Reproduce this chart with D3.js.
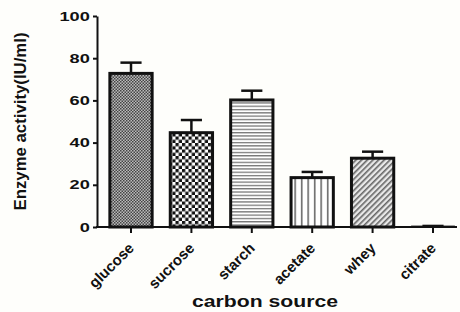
<!DOCTYPE html>
<html>
<head>
<meta charset="utf-8">
<script src="https://cdn.jsdelivr.net/npm/d3@7"></script>
<style>
  body { margin: 0; background: #fefefb; }
  svg { display: block; font-family: "Liberation Sans", Arial, sans-serif; }
  .tick text { font-weight: bold; fill: #111; }
</style>
</head>
<body>
<svg id="chart" width="460" height="312"></svg>
<script>
// data
var sources = ['glucose', 'sucrose', 'starch', 'acetate', 'whey', 'citrate'];
var activity = [72.8, 44.7, 60.2, 23.4, 32.6, 0.3];
var errors = [5.1, 6.0, 4.4, 2.7, 3.1, 0.2];
var patterns = ['fine', 'checker', 'hlines', 'vlines', 'diag', 'none'];
var yTicks = [0, 20, 40, 60, 80, 100];

var svg = d3.select('#chart');
var x0 = 97, y0 = 227, yTop = 16;

var x = d3.scaleBand().domain(sources).range([x0, 467])
  .paddingInner(0.3).paddingOuter(0.213);
var y = d3.scaleLinear().domain([0, 100]).range([y0, yTop]);

// fill patterns
var defs = svg.append('defs');
var p;
p = defs.append('pattern').attr('id', 'fine').attr('patternUnits', 'userSpaceOnUse')
  .attr('width', 3).attr('height', 3);
p.append('rect').attr('width', 3).attr('height', 3).attr('fill', '#bbb');
p.append('rect').attr('width', 1.5).attr('height', 1.5).attr('fill', '#444');
p.append('rect').attr('x', 1.5).attr('y', 1.5).attr('width', 1.5).attr('height', 1.5).attr('fill', '#444');

p = defs.append('pattern').attr('id', 'checker').attr('patternUnits', 'userSpaceOnUse')
  .attr('width', 6.5).attr('height', 6.5);
p.append('rect').attr('width', 6.5).attr('height', 6.5).attr('fill', '#fff');
p.append('rect').attr('width', 3.25).attr('height', 3.25).attr('fill', '#111');
p.append('rect').attr('x', 3.25).attr('y', 3.25).attr('width', 3.25).attr('height', 3.25).attr('fill', '#111');

p = defs.append('pattern').attr('id', 'hlines').attr('patternUnits', 'userSpaceOnUse')
  .attr('width', 4).attr('height', 3.3);
p.append('rect').attr('width', 4).attr('height', 3.3).attr('fill', '#fff');
p.append('rect').attr('width', 4).attr('height', 1.3).attr('fill', '#777');

p = defs.append('pattern').attr('id', 'vlines').attr('patternUnits', 'userSpaceOnUse')
  .attr('width', 6.5).attr('height', 4);
p.append('rect').attr('width', 6.5).attr('height', 4).attr('fill', '#fff');
p.append('rect').attr('x', 2).attr('width', 1.4).attr('height', 4).attr('fill', '#555');

p = defs.append('pattern').attr('id', 'diag').attr('patternUnits', 'userSpaceOnUse')
  .attr('width', 4).attr('height', 4).attr('patternTransform', 'rotate(45)');
p.append('rect').attr('width', 4).attr('height', 4).attr('fill', '#e8e8e8');
p.append('rect').attr('width', 1.6).attr('height', 4).attr('fill', '#666');

// bars
svg.selectAll('rect.bar').data(sources).enter().append('rect')
  .attr('class', 'bar')
  .attr('x', function(d) { return x(d); })
  .attr('width', x.bandwidth())
  .attr('y', function(d, i) { return y(activity[i]); })
  .attr('height', function(d, i) { return y0 - y(activity[i]); })
  .attr('fill', function(d, i) { return patterns[i] == 'none' ? '#fff' : 'url(#' + patterns[i] + ')'; })
  .attr('stroke', '#111')
  .attr('stroke-width', function(d, i) { return activity[i] < 1 ? 1.5 : 3; });

// error bars (upper only)
var eb = svg.selectAll('g.err').data(sources).enter().append('g').attr('class', 'err');
eb.append('line')
  .attr('x1', function(d) { return x(d) + x.bandwidth() / 2; })
  .attr('x2', function(d) { return x(d) + x.bandwidth() / 2; })
  .attr('y1', function(d, i) { return y(activity[i]); })
  .attr('y2', function(d, i) { return y(activity[i] + errors[i]); })
  .attr('stroke', '#111').attr('stroke-width', 2.5);
eb.append('line')
  .attr('x1', function(d) { return x(d) + x.bandwidth() / 4; })
  .attr('x2', function(d) { return x(d) + x.bandwidth() * 3 / 4; })
  .attr('y1', function(d, i) { return y(activity[i] + errors[i]); })
  .attr('y2', function(d, i) { return y(activity[i] + errors[i]); })
  .attr('stroke', '#111').attr('stroke-width', 2.5);

// y axis
var ya = svg.append('g').attr('transform', 'translate(' + x0 + ',0)')
  .call(d3.axisLeft(y).tickValues(yTicks).tickSize(4).tickSizeOuter(0));
ya.select('.domain').attr('stroke', '#111').attr('stroke-width', 2);
ya.selectAll('.tick line').attr('stroke', '#111').attr('stroke-width', 2);
// the source picture is stretched sideways, so widen the digits
ya.selectAll('.tick text').attr('font-size', 13).attr('x', -3)
  .attr('transform', 'translate(-3,0) scale(1.4,1)');

// x axis
var xa = svg.append('g').attr('transform', 'translate(0,' + y0 + ')')
  .call(d3.axisBottom(x).tickSize(6).tickSizeOuter(0));
xa.select('.domain').remove();
xa.selectAll('.tick line').attr('stroke', '#111').attr('stroke-width', 2);
xa.selectAll('.tick text')
  .attr('font-size', 15)
  .attr('text-anchor', 'end')
  .attr('x', 0).attr('y', 0).attr('dy', 0)
  .attr('transform', 'translate(4,22) rotate(-45)');
svg.append('line').attr('x1', x0 - 1).attr('x2', 457).attr('y1', y0).attr('y2', y0)
  .attr('stroke', '#111').attr('stroke-width', 2);

// axis titles
svg.append('text').attr('transform', 'translate(26,' + ((y0 + yTop) / 2) + ') scale(1.25,1) rotate(-90)')
  .attr('text-anchor', 'middle').attr('font-size', 13).attr('font-weight', 'bold')
  .attr('textLength', 178).attr('lengthAdjust', 'spacingAndGlyphs')
  .attr('fill', '#111').text('Enzyme activity(IU/ml)');
svg.append('text').attr('x', 265).attr('y', 307)
  .attr('text-anchor', 'middle').attr('font-size', 17).attr('font-weight', 'bold')
  .attr('textLength', 146).attr('lengthAdjust', 'spacingAndGlyphs')
  .attr('fill', '#111').text('carbon source');
</script>
</body>
</html>
